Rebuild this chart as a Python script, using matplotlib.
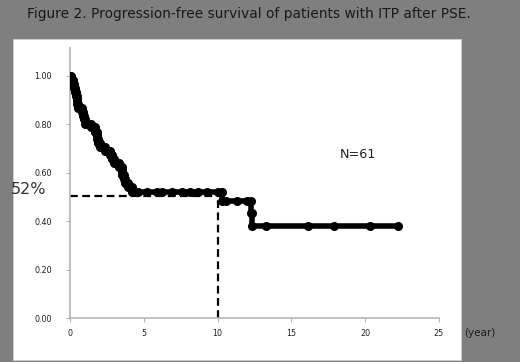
import numpy as np
import matplotlib
matplotlib.use("Agg")
import matplotlib.pyplot as plt
from matplotlib.patches import Rectangle

# Kaplan-Meier data
event_times = [0.1, 0.2, 0.3, 0.35, 0.4, 0.45, 0.5, 0.55, 0.8, 0.9, 0.95, 1.0,
               1.4, 1.7, 1.8, 1.85, 1.9, 2.0, 2.4, 2.7, 2.85, 3.0, 3.3, 3.5,
               3.55, 3.65, 3.75, 3.9, 4.2, 10.3, 12.25, 12.3]
event_surv = [0.984, 0.967, 0.951, 0.934, 0.918, 0.902, 0.885, 0.869, 0.852,
              0.836, 0.820, 0.803, 0.787, 0.770, 0.754, 0.738, 0.721, 0.705,
              0.689, 0.672, 0.656, 0.639, 0.623, 0.607, 0.590, 0.574, 0.557,
              0.541, 0.520, 0.485, 0.435, 0.380]
censor_times = [4.6, 5.2, 5.9, 6.25, 6.9, 7.6, 8.1, 8.7, 9.3, 10.0,
                10.6, 11.3, 12.0, 13.3, 16.15, 17.9, 20.3, 22.25]
median_time = 10
median_surv = 0.505
n_label = "N=61"
pct_label = "52%"
y_ticks = [0.0, 0.2, 0.4, 0.6, 0.8, 1.0]
x_ticks = [0, 5, 10, 15, 20, 25]

fig = plt.figure(figsize=(5.2, 3.62), dpi=100)
fig.patch.set_facecolor("#7f7f7f")
panel = Rectangle((13/520, 2/362), 448/520, 321/362, transform=fig.transFigure,
                  facecolor="white", edgecolor="#d0d0d0", linewidth=0.6, zorder=-5)
fig.add_artist(panel)

ax = fig.add_axes([70/520, 44/362, 369/520, 270/362])
ax.set_facecolor("none")
ax.set_zorder(2)

t_all = np.concatenate([[0.0], event_times])
s_all = np.concatenate([[1.0], event_surv])
end_t = max(censor_times)
step_t = np.concatenate([t_all, [end_t]])
step_s = np.concatenate([s_all, [s_all[-1]]])
ax.step(step_t, step_s, where="post", color="black", linewidth=4, zorder=3, solid_capstyle="round")

# markers at event corners and censored times
prev_s = np.concatenate([[1.0], event_surv[:-1]])
idx = np.searchsorted(t_all, censor_times, side="right") - 1
cens_s = s_all[idx]
mx = np.concatenate([[0.0], event_times, event_times, censor_times])
my = np.concatenate([[1.0], event_surv, prev_s, cens_s])
ax.plot(mx, my, linestyle="none", marker="o", color="black", markersize=5.5, zorder=4)

# median dashed lines
ax.plot([0, median_time], [median_surv, median_surv], color="black", linestyle=(0, (3.5, 2)), linewidth=1.6, zorder=2)
ax.plot([median_time, median_time], [0, median_surv], color="black", linestyle=(0, (3.5, 2)), linewidth=1.6, zorder=2)

ax.set_xlim(0, 25)
ax.set_ylim(0, 1.115)
ax.set_yticks(y_ticks)
ax.set_yticklabels([f"{v:.2f}" for v in y_ticks])
ax.set_xticks(x_ticks)
ax.set_xticklabels([str(v) for v in x_ticks])
for side in ["top", "right"]:
    ax.spines[side].set_visible(False)
for side in ["left", "bottom"]:
    ax.spines[side].set_color("#b5b5b5")
    ax.spines[side].set_linewidth(1.2)
ax.tick_params(axis="both", colors="#b5b5b5", labelcolor="#222222", labelsize=5.8, length=3)
ax.tick_params(axis="y", pad=10)
ax.tick_params(axis="x", pad=5)

ax.text(0.779, 0.604, n_label, transform=ax.transAxes, fontsize=9.2, color="#222222", ha="center", va="center")
fig.text(29/520, 1 - 189/362, pct_label, fontsize=11.5, color="#333333", ha="center", va="center")
fig.text(480/520, 1 - 333/362, "(year)", fontsize=7.5, color="#1a1a1a", ha="center", va="center")
fig.text(27/520, 1 - 14/362, "Figure 2. Progression-free survival of patients with ITP after PSE.",
         fontsize=9.9, color="#1a1a1a", ha="left", va="center")

fig.savefig("out.png", dpi=100, facecolor=fig.get_facecolor())
